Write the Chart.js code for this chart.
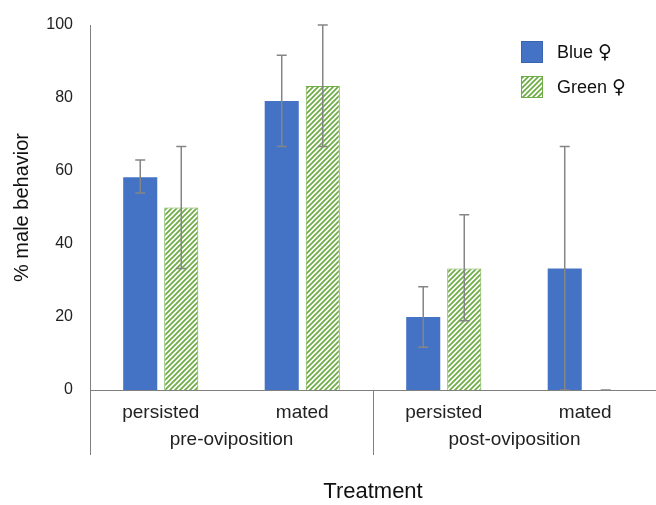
<!DOCTYPE html>
<html>
<head>
<meta charset="utf-8">
<script src="https://cdn.jsdelivr.net/npm/chart.js@4.4.0/dist/chart.umd.min.js"></script>
<style>
  html, body { margin: 0; padding: 0; background: #fff; }
  #wrap { width: 656px; height: 505px; position: relative; }
</style>
</head>
<body>
<div id="wrap"><canvas id="chart"></canvas></div>
<script>
/* ==================== DATA ==================== */
const categories = ["persisted", "mated", "persisted", "mated"];
const groups = ["pre-oviposition", "post-oviposition"];
const seriesNames = ["Blue", "Green"];
const blueValues = [58.3, 79.2, 20.0, 33.3];
const greenValues = [50.0, 83.3, 33.3, 0];
const blueLow = [54.0, 66.7, 11.7, 0];
const blueHigh = [63.0, 91.7, 28.3, 66.7];
const greenLow = [33.3, 66.7, 19.0, 0];
const greenHigh = [66.7, 100, 48.0, 0];
const yTicks = [0, 20, 40, 60, 80, 100];

const BLUE = "#4472C4";
const GREEN = "#70AD47";
const AXIS = "#7f7f7f";
const FONT = "'Liberation Sans', Arial, Helvetica, sans-serif";
const FEMALE = "\u2640";

/* ==================== HATCH PATTERN ==================== */
function makeHatch() {
  const c = document.createElement("canvas");
  c.width = 5; c.height = 5;
  const g = c.getContext("2d");
  g.fillStyle = "#fff";
  g.fillRect(0, 0, 5, 5);
  g.strokeStyle = GREEN;
  g.lineWidth = 1.8;
  g.beginPath();
  g.moveTo(0, 5); g.lineTo(5, 0);
  g.moveTo(-1, 1); g.lineTo(1, -1);
  g.moveTo(4, 6); g.lineTo(6, 4);
  g.stroke();
  return g.createPattern(c, "repeat");
}
const hatch = makeHatch();

/* ==================== EXTRAS PLUGIN ==================== */
const extras = {
  id: "extras",
  afterDatasetsDraw(chart) {
    const ctx = chart.ctx;
    const y = chart.scales.y;
    const errs = [[blueLow, blueHigh], [greenLow, greenHigh]];
    ctx.save();
    ctx.strokeStyle = "#858585";
    ctx.lineWidth = 1.5;
    errs.forEach(([lo, hi], di) => {
      chart.getDatasetMeta(di).data.forEach((bar, i) => {
        const x = bar.x;
        const y1 = y.getPixelForValue(lo[i]);
        const y2 = y.getPixelForValue(hi[i]);
        ctx.beginPath();
        ctx.moveTo(x, y1); ctx.lineTo(x, y2);
        ctx.moveTo(x - 5, y1); ctx.lineTo(x + 5, y1);
        ctx.moveTo(x - 5, y2); ctx.lineTo(x + 5, y2);
        ctx.stroke();
      });
    });
    ctx.restore();
  },
  afterDraw(chart) {
    const ctx = chart.ctx;
    const x = chart.scales.x;
    const area = chart.chartArea;
    ctx.save();
    // group separators
    const mid = (x.getPixelForValue(1) + x.getPixelForValue(2)) / 2;
    ctx.strokeStyle = AXIS;
    ctx.lineWidth = 1;
    ctx.beginPath();
    ctx.moveTo(area.left + 0.5, area.bottom); ctx.lineTo(area.left + 0.5, area.bottom + 65);
    ctx.moveTo(Math.round(mid) + 0.5, area.bottom); ctx.lineTo(Math.round(mid) + 0.5, area.bottom + 65);
    ctx.stroke();
    // group labels
    ctx.fillStyle = "#222";
    ctx.font = "19px " + FONT;
    ctx.textAlign = "center";
    ctx.textBaseline = "middle";
    groups.forEach((g, gi) => {
      const cx = (x.getPixelForValue(gi * 2) + x.getPixelForValue(gi * 2 + 1)) / 2;
      ctx.fillText(g, cx, area.bottom + 50);
    });
    // legend
    const fills = [BLUE, hatch];
    const edges = ["#3a64b0", GREEN];
    ctx.textAlign = "left";
    seriesNames.forEach((name, i) => {
      const ly = 41 + i * 35;
      ctx.fillStyle = fills[i];
      ctx.fillRect(521, ly, 22, 22);
      ctx.strokeStyle = edges[i];
      ctx.strokeRect(521.5, ly + 0.5, 21, 21);
      ctx.fillStyle = "#111";
      ctx.font = "18px " + FONT;
      const label = name + " ";
      ctx.fillText(label, 557, ly + 12);
      const w = ctx.measureText(label).width;
      ctx.font = "19px 'DejaVu Sans', sans-serif";
      ctx.fillText(FEMALE, 557 + w, ly + 12);
    });
    ctx.restore();
  }
};

/* ==================== CHART ==================== */
new Chart(document.getElementById("chart"), {
  type: "bar",
  data: {
    labels: categories,
    datasets: [
      { label: seriesNames[0] + " " + FEMALE, data: blueValues, backgroundColor: BLUE, borderWidth: 0 },
      { label: seriesNames[1] + " " + FEMALE, data: greenValues, backgroundColor: hatch, borderColor: GREEN, borderWidth: 1 }
    ]
  },
  options: {
    responsive: true,
    maintainAspectRatio: false,
    animation: false,
    layout: { padding: { top: 25, right: 0, left: 0, bottom: 0 } },
    datasets: { bar: { categoryPercentage: 0.58, barPercentage: 0.83 } },
    plugins: { legend: { display: false }, tooltip: { enabled: false } },
    scales: {
      x: {
        grid: { display: false },
        border: { color: AXIS, width: 1 },
        ticks: { color: "#222", font: { family: FONT, size: 19 }, padding: 3, maxRotation: 0 },
        title: { display: true, text: "Treatment", color: "#111", font: { family: FONT, size: 22 }, padding: { top: 0, bottom: 0 } },
        afterFit(s) { s.height = 115; }
      },
      y: {
        min: 0, max: 100,
        afterBuildTicks(s) { s.ticks = yTicks.map(v => ({ value: v })); },
        grid: { display: false },
        border: { color: AXIS, width: 1 },
        ticks: { color: "#222", font: { family: FONT, size: 16 }, padding: 9 },
        title: { display: true, text: "% male behavior", color: "#111", font: { family: FONT, size: 20 }, padding: { top: 10, bottom: 0 } },
        afterFit(s) { s.width = 90; }
      }
    }
  },
  plugins: [extras]
});
</script>
</body>
</html>
